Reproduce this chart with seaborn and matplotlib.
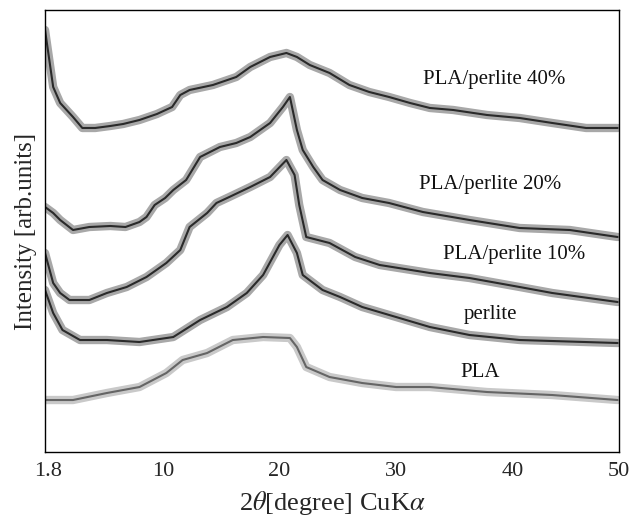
import matplotlib
matplotlib.use("Agg")
import matplotlib.pyplot as plt
import seaborn as sns
import pandas as pd

# XRD patterns (x in the figure's axis units, intensity in arb. units)
x_pla40 = [-0.1, 0.6, 1.2, 2.3, 3.1, 4.2, 5.5, 6.6, 8.0, 9.5, 10.8, 11.5, 12.3, 14.3, 16.3, 17.5,
           19.2, 20.6, 21.5, 22.6, 24.3, 26.0, 27.7, 29.4, 31.2, 32.9, 34.9, 37.8, 40.6, 43.4, 46.3, 49.0]
y_pla40 = [422, 365, 349, 335, 324, 324, 326, 328, 332, 338, 345, 357, 362, 367, 375, 385,
           395, 399, 395, 387, 379, 367, 360, 355, 349, 344, 342, 337, 334, 329, 324, 324]

x_pla20 = [-0.1, 0.6, 1.2, 2.3, 3.7, 5.5, 6.8, 8.0, 8.6, 9.3, 10.2, 10.9, 12.0, 13.2, 14.9, 16.3,
           17.5, 19.2, 20.3, 20.9, 21.5, 22.0, 22.9, 23.7, 25.2, 27.1, 29.4, 32.3, 36.3, 40.6, 44.9, 49.0]
y_pla20 = [245, 239, 232, 222, 225, 226, 225, 230, 235, 247, 254, 262, 272, 295, 305, 309,
           315, 329, 345, 355, 322, 302, 285, 272, 262, 254, 249, 240, 232, 224, 222, 215]

x_pla10 = [-0.1, 0.6, 1.2, 2.0, 3.7, 5.2, 6.9, 8.6, 10.3, 11.5, 12.3, 13.8, 14.6, 15.7, 17.5, 19.2,
           20.6, 21.3, 21.7, 22.3, 24.3, 26.5, 28.6, 32.9, 36.3, 40.6, 43.4, 49.0]
y_pla10 = [199, 169, 159, 152, 152, 159, 165, 175, 189, 202, 225, 239, 249, 255, 265, 275,
           292, 277, 247, 215, 209, 195, 187, 179, 174, 165, 159, 150]

x_perlite = [-0.1, 0.6, 1.4, 2.9, 5.2, 8.0, 10.9, 13.2, 15.5, 17.2, 18.6, 20.0, 20.7, 21.5, 22.0,
             23.7, 25.2, 27.1, 30.0, 32.9, 36.3, 40.6, 49.0]
y_perlite = [162, 139, 122, 112, 112, 110, 115, 132, 145, 159, 177, 207, 217, 199, 177,
             162, 155, 145, 135, 125, 117, 112, 109]

x_pla = [-0.1, 2.3, 5.2, 8.0, 10.3, 11.7, 13.8, 16.0, 18.6, 20.9, 21.5, 22.3, 24.3, 27.1, 30.0,
         32.9, 37.8, 43.4, 49.0]
y_pla = [52, 52, 59, 65, 79, 92, 99, 112, 115, 114, 105, 85, 75, 69, 65, 65, 60, 57, 52]

curve_names = ["PLA/perlite 40%", "PLA/perlite 20%", "PLA/perlite 10%", "perlite", "PLA"]
curve_x = [x_pla40, x_pla20, x_pla10, x_perlite, x_pla]
curve_y = [y_pla40, y_pla20, y_pla10, y_perlite, y_pla]
curve_core = ['#1c1c1c', '#1c1c1c', '#1c1c1c', '#1c1c1c', '#5a5a5a']
curve_band = ['#6e6e6e', '#6e6e6e', '#6e6e6e', '#6e6e6e', '#a5a5a5']
label_pos = [(38.4, 372), (38.1, 267), (40.1, 198), (38.1, 138), (37.2, 80)]

# the original labels its left edge "1.8" and right edge "50"
tick_pos = [0.2, 10, 20, 30, 40, 49.1]
tick_labels = ["1.8", "10", "20", "30", "40", "50"]

df = pd.concat([pd.DataFrame({'two_theta': xs, 'intensity': ys, 'sample': name})
                for name, xs, ys in zip(curve_names, curve_x, curve_y)])

sns.set_style("white")
plt.rcParams['font.family'] = ['Liberation Serif', 'DejaVu Serif']
plt.rcParams['mathtext.fontset'] = 'stix'

fig = plt.figure(figsize=(6.34, 5.25), dpi=100)
ax = fig.add_axes([0.071, 0.139, 0.905, 0.842])

for name, core, band in zip(curve_names, curve_core, curve_band):
    sub = df[df['sample'] == name]
    # broad grey band for the noisy trace, darker core on top
    sns.lineplot(data=sub, x='two_theta', y='intensity', ax=ax,
                 color=band, lw=6, alpha=0.6, estimator=None, sort=False)
    sns.lineplot(data=sub, x='two_theta', y='intensity', ax=ax,
                 color=core, lw=1.5, alpha=0.9, estimator=None, sort=False)

for name, (lx, ly) in zip(curve_names, label_pos):
    ax.text(lx, ly, name, ha='center', va='center', fontsize=15, color='#111111')

ax.set_xlim(-0.1, 49.1)
ax.set_ylim(0, 442)
ax.set_xticks(tick_pos)
ax.set_xticklabels(tick_labels, fontsize=16)
ax.set_yticks([])
ax.tick_params(axis='x', length=0, pad=7)
for sp in ax.spines.values():
    sp.set_color('black')
    sp.set_linewidth(1.0)

ax.set_xlabel(r'2$\theta$[degree] CuK$\alpha$', fontsize=19, labelpad=6)
ax.set_ylabel('Intensity [arb.units]', fontsize=18, labelpad=6)

fig.savefig("out.png", dpi=100)
